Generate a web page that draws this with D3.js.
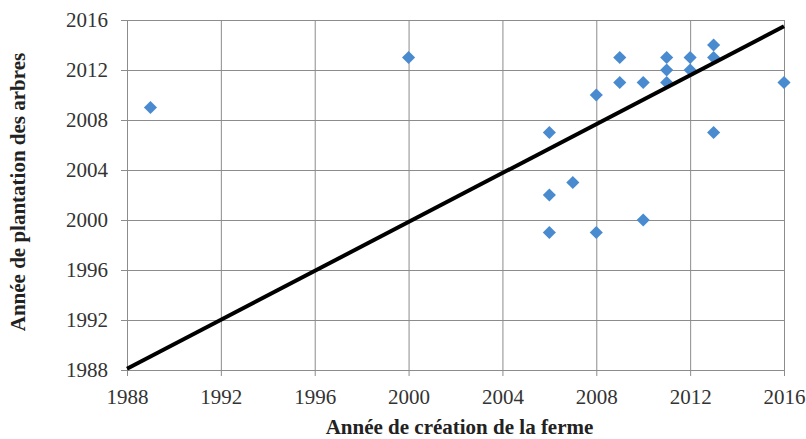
<!DOCTYPE html>
<html>
<head>
<meta charset="utf-8">
<script src="https://cdn.jsdelivr.net/npm/d3@7"></script>
<style>
  body { margin: 0; background: #fff; }
  text { font-family: "Liberation Serif", "Times New Roman", serif; }
</style>
</head>
<body>
<div id="chart"></div>
<script>
// Data: year the farm was created vs. year trees were planted
const creationYears = [1989, 2000, 2006, 2006, 2006, 2007, 2008, 2008, 2009, 2009, 2010, 2010,
                       2011, 2011, 2011, 2012, 2012, 2013, 2013, 2013, 2016];
const plantingYears = [2009, 2013, 2007, 2002, 1999, 2003, 2010, 1999, 2013, 2011, 2011, 2000,
                       2013, 2012, 2011, 2013, 2012, 2014, 2013, 2007, 2011];
// trend line end points
const lineX = [1988, 2016];
const lineY = [1988.1, 2015.5];
const tickYears = [1988, 1992, 1996, 2000, 2004, 2008, 2012, 2016];

const margin = {top: 20, right: 22, bottom: 69, left: 127};
const width = 806 - margin.left - margin.right,
      height = 439 - margin.top - margin.bottom;

const svg = d3.select("#chart").append("svg")
              .attr("width", 806)
              .attr("height", 439)
              .append("g")
              .attr("transform", `translate(${margin.left},${margin.top})`);

const x = d3.scaleLinear().domain([1988, 2016]).range([0, width]);
const y = d3.scaleLinear().domain([1988, 2016]).range([height, 0]);

// gridlines
svg.append("g")
   .call(d3.axisLeft(y).tickValues(tickYears).tickSize(-width).tickFormat(""))
   .call(g => g.select(".domain").remove())
   .call(g => g.selectAll("line").attr("stroke", "#8c8c8c"));
svg.append("g")
   .attr("transform", `translate(0,${height})`)
   .call(d3.axisBottom(x).tickValues(tickYears).tickSize(-height).tickFormat(""))
   .call(g => g.select(".domain").remove())
   .call(g => g.selectAll("line").attr("stroke", "#8c8c8c"));

// axes
let xAxis = svg.append("g")
   .attr("transform", `translate(0,${height})`)
   .call(d3.axisBottom(x).tickValues(tickYears).tickFormat(d3.format("d")).tickSize(6).tickSizeOuter(0).tickPadding(13));
let yAxis = svg.append("g")
   .call(d3.axisLeft(y).tickValues(tickYears).tickFormat(d3.format("d")).tickSize(6).tickSizeOuter(0).tickPadding(13));
[xAxis, yAxis].forEach(a => {
  a.select(".domain").attr("stroke", "#8c8c8c");
  a.selectAll("line").attr("stroke", "#8c8c8c");
  a.selectAll("text").attr("fill", "#333").style("font-size", "21px")
   .style("font-family", "'Liberation Serif', serif");
});

// points
const points = creationYears.map((c, i) => ({c: c, p: plantingYears[i]}));
svg.append("g").selectAll("path")
   .data(points)
   .join("path")
   .attr("d", d3.symbol(d3.symbolDiamond2, 110))
   .attr("transform", d => `translate(${x(d.c)},${y(d.p)})`)
   .attr("fill", "#4a8bd0");

// trend line
svg.append("line")
   .attr("x1", x(lineX[0])).attr("y1", y(lineY[0]))
   .attr("x2", x(lineX[1])).attr("y2", y(lineY[1]))
   .attr("stroke", "#000")
   .attr("stroke-width", 4);

// axis titles
svg.append("text")
   .attr("x", width / 2 + 4)
   .attr("y", height + 64)
   .attr("text-anchor", "middle")
   .attr("fill", "#222")
   .style("font-size", "21px")
   .style("font-weight", "bold")
   .text("Année de création de la ferme");
svg.append("text")
   .attr("transform", `translate(${-margin.left + 25},${172}) rotate(-90)`)
   .attr("text-anchor", "middle")
   .attr("fill", "#222")
   .style("font-size", "21px")
   .style("font-weight", "bold")
   .text("Année de plantation des arbres");
</script>
</body>
</html>
